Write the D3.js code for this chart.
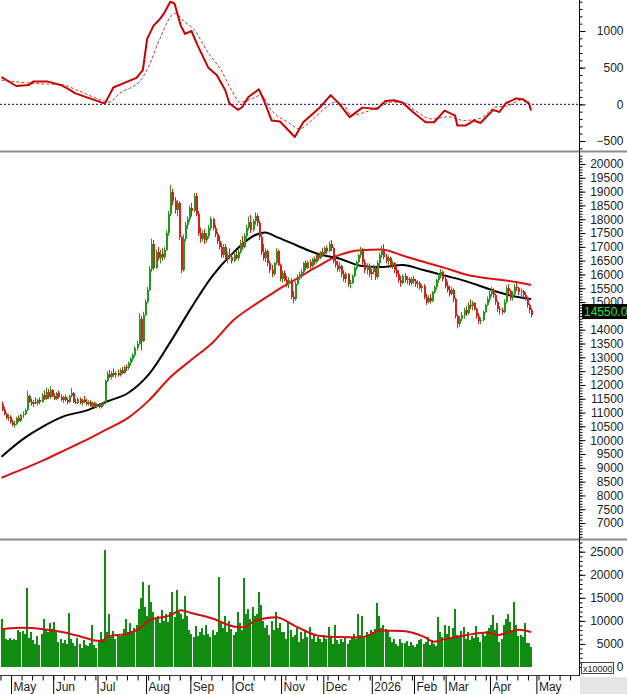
<!DOCTYPE html>
<html>
<head>
<meta charset="utf-8">
<script src="https://cdn.jsdelivr.net/npm/d3@7"></script>
<style>
body { margin: 0; background: #fff; }
svg { display: block; font-family: "Liberation Sans", Arial, sans-serif; }
</style>
</head>
<body>
<svg width="627" height="694"></svg>
<script>
// month axis (trading-day index of each month's first session)
const monthLabels = ['May', 'Jun', 'Jul', 'Aug', 'Sep', 'Oct', 'Nov', 'Dec', '2026', 'Feb', 'Mar', 'Apr', 'May'];
const monthStarts = [5, 25, 46, 69, 90, 110, 133, 153, 176, 196, 211, 232, 254];

const priceTicks = [20000, 19500, 19000, 18500, 18000, 17500, 17000, 16500, 16000, 15500, 15000, 14500, 14000,
    13500, 13000, 12500, 12000, 11500, 11000, 10500, 10000, 9500, 9000, 8500, 8000, 7500, 7000];
const macdTicks = [1000, 500, 0, -500];
const volTicks = [25000, 20000, 15000, 10000, 5000, 0];
const lastPrice = 14550;

// daily candles
const opens = [
    11300,11100,10950,10800,10850,10650,10550,10600,10800,10700,10900,10950,
    11100,11600,11400,11300,11400,11350,11450,11400,11650,11500,11750,11550,
    11800,11600,11500,11700,11550,11450,11550,11450,11400,11600,11700,11400,
    11350,11500,11350,11450,11400,11300,11400,11250,11350,11200,11300,11200,
    11300,11350,12150,12400,12300,12450,12350,12450,12350,12550,12450,12650,
    12600,12800,12950,13100,13350,13500,14400,13600,14550,15000,15450,16200,
    17100,16250,16800,16600,16750,16650,16900,17500,18200,19000,18650,18350,
    18600,17350,16150,17300,17800,18000,18400,18300,18850,18200,17500,17300,
    17500,17250,17400,17700,18000,17700,17450,17200,17000,16700,17000,16600,
    16700,16650,16500,16700,16600,16800,17150,17000,17400,17700,17900,17600,
    17950,18100,17850,17350,16800,16600,16850,16400,16150,16000,16400,16850,
    16350,15850,16050,15800,15650,15800,15200,15100,15650,15900,16000,16100,
    16400,16250,16450,16300,16550,16450,16700,16600,16800,16750,16950,16850,
    17100,16950,16500,16350,16200,16300,16000,15850,16000,15650,15700,15950,
    16250,16450,16700,16900,16450,16150,16300,16000,16100,16250,15900,16400,
    16700,16900,16650,16500,16600,16350,16400,16150,16000,15800,15700,15950,
    15800,15850,15700,15850,15750,15650,15700,15500,15600,15200,15000,15150,
    15050,15350,15550,15800,15950,16100,15850,15600,15450,15300,15450,15100,
    14500,14200,14400,14550,14700,14600,14900,14850,14950,14750,14500,14300,
    14350,14650,14900,15100,15300,15450,15250,15000,14750,14700,14650,15000,
    15500,15400,15150,15300,15550,15500,15350,15400,15250,15150,14900,14700
];
const highs = [
    11400,11200,11000,10950,10900,10750,10700,10850,10900,10950,11050,11150,
    11800,11650,11500,11450,11550,11500,11550,11700,11800,11900,11850,11950,
    11850,11700,11750,11800,11650,11600,11650,11550,11650,11900,11750,11500,
    11550,11550,11500,11600,11500,11450,11450,11400,11400,11350,11350,11350,
    11400,12200,12500,12550,12500,12600,12500,12550,12600,12650,12700,12750,
    12850,13000,13150,13400,13600,14600,14500,14650,15100,15550,16300,17300,
    17250,16900,17000,16900,16950,17000,17600,18300,19250,19100,18800,18700,
    18650,17400,17450,17900,18100,18500,18600,18950,18950,18300,17700,17600,
    17650,17500,17800,18100,18050,17800,17550,17400,17150,17100,17100,16800,
    16950,16750,16800,16850,16900,17250,17400,17500,17800,18100,18150,18000,
    18250,18200,17950,17500,17100,16950,16900,16500,16350,16450,16950,16900,
    16400,16150,16150,15950,15900,15850,15400,15750,16000,16100,16200,16450,
    16500,16500,16550,16600,16650,16750,16800,16850,16950,17000,17050,17200,
    17250,17000,16700,16500,16450,16350,16150,16100,16050,15800,16000,16300,
    16500,16750,17000,16950,16550,16400,16400,16200,16350,16300,16500,16800,
    17050,17100,16750,16700,16650,16500,16450,16300,16150,15950,16000,16050,
    15950,15900,15900,15950,15850,15800,15750,15650,15650,15300,15250,15300,
    15400,15600,15850,16050,16200,16150,15950,15750,15600,15550,15500,15150,
    14550,14500,14650,14800,14850,15000,15100,15050,15000,14800,14600,14450,
    14700,14950,15200,15400,15550,15500,15300,15050,14850,14800,15100,15600,
    15650,15450,15400,15650,15700,15550,15500,15450,15350,15200,14950,14800
];
const lows = [
    11050,10900,10750,10700,10600,10500,10450,10550,10650,10650,10800,10900,
    11050,11350,11250,11200,11300,11250,11300,11350,11450,11450,11500,11500,
    11550,11450,11450,11500,11400,11350,11400,11300,11350,11550,11350,11300,
    11300,11300,11250,11350,11250,11250,11200,11200,11150,11150,11150,11150,
    11250,11300,12100,12250,12200,12300,12250,12300,12300,12400,12400,12500,
    12550,12700,12850,13000,13250,13450,13250,13550,14500,14950,15400,16100,
    16150,16200,16500,16400,16500,16550,16850,17400,18100,18500,18200,18100,
    17250,16050,16100,17200,17650,17900,18100,18250,18100,17400,17150,17200,
    17100,17150,17300,17600,17600,17350,17100,16900,16600,16600,16500,16400,
    16550,16400,16450,16550,16500,16750,16900,16950,17300,17600,17500,17550,
    17800,17750,17250,16700,16500,16450,16300,16050,15900,15950,16350,16300,
    15750,15700,15750,15550,15500,15100,14950,15050,15600,15800,15850,16000,
    16150,16200,16200,16250,16350,16400,16500,16550,16650,16700,16750,16800,
    16850,16400,16250,16100,16100,15900,15750,15700,15550,15500,15650,15900,
    16150,16400,16600,16350,16050,16000,15900,15800,16000,15800,15850,16300,
    16600,16550,16400,16350,16250,16200,16050,15900,15700,15550,15650,15700,
    15650,15600,15600,15650,15550,15500,15450,15350,15100,14900,14950,14950,
    15000,15300,15450,15700,15850,15750,15500,15350,15200,15250,15000,14400,
    14050,14100,14300,14400,14500,14550,14750,14700,14700,14400,14200,14200,
    14300,14600,14850,15000,15200,15150,14900,14650,14550,14550,14600,14950,
    15300,15050,15050,15250,15400,15250,15200,15150,15050,14800,14600,14450
];
const closes = [
    11100,10950,10800,10850,10650,10550,10600,10800,10700,10900,10950,11100,
    11600,11400,11300,11400,11350,11450,11400,11650,11500,11750,11550,11800,
    11600,11500,11700,11550,11450,11550,11450,11400,11600,11700,11400,11350,
    11500,11350,11450,11400,11300,11400,11250,11350,11200,11300,11200,11300,
    11350,12150,12400,12300,12450,12350,12450,12350,12550,12450,12650,12600,
    12800,12950,13100,13350,13500,14400,13600,14550,15000,15450,16200,17100,
    16250,16800,16600,16750,16650,16900,17500,18200,19000,18650,18350,18600,
    17350,16150,17300,17800,18000,18400,18300,18850,18200,17500,17300,17500,
    17250,17400,17700,18000,17700,17450,17200,17000,16700,17000,16600,16700,
    16650,16500,16700,16600,16800,17150,17000,17400,17700,17900,17600,17950,
    18100,17850,17350,16800,16600,16850,16400,16150,16000,16400,16850,16350,
    15850,16050,15800,15650,15800,15200,15100,15650,15900,16000,16100,16400,
    16250,16450,16300,16550,16450,16700,16600,16800,16750,16950,16850,17100,
    16950,16500,16350,16200,16300,16000,15850,16000,15650,15700,15950,16250,
    16450,16700,16900,16450,16150,16300,16000,16100,16250,15900,16400,16700,
    16900,16650,16500,16600,16350,16400,16150,16000,15800,15700,15950,15800,
    15850,15700,15850,15750,15650,15700,15500,15600,15200,15000,15150,15050,
    15350,15550,15800,15950,16100,15850,15600,15450,15300,15450,15100,14500,
    14200,14400,14550,14700,14600,14900,14850,14950,14750,14500,14300,14350,
    14650,14900,15100,15300,15450,15250,15000,14750,14700,14650,15000,15500,
    15400,15150,15300,15550,15500,15350,15400,15250,15150,14900,14700,14550
];
const volumes = [
    10500,8300,6000,5800,6200,5900,6100,5900,8000,7500,7800,7200,
    17100,6200,7500,5800,5000,6800,4800,7200,10500,8000,7500,9500,
    8200,9800,7600,5500,6000,5200,5800,5000,11800,6000,5200,4500,
    6300,5000,4200,5800,4800,4500,5200,9000,4800,4200,5500,7500,
    6000,25400,7500,11600,6500,7800,6000,7200,6800,7000,8200,10300,
    7500,9500,7800,8500,9200,12500,15000,18500,13000,11000,17800,14000,
    12000,10500,11000,9500,12300,10000,11500,9800,12000,16200,10800,16800,
    12000,11500,10500,15400,11000,8000,7200,6500,8800,6800,7500,8500,
    7000,9000,7200,6500,8000,7000,7500,19600,9500,8500,11000,7500,
    10000,8200,7000,7500,12000,9500,8000,19300,11500,12500,10500,13000,
    11000,11500,16300,13500,10000,8500,9000,7000,10000,8000,12000,8500,
    9500,7500,7500,6000,9800,8000,6500,7000,8500,5500,7500,6000,
    8000,6500,8700,6000,7000,5500,6500,6000,5500,7000,6000,8700,
    6500,5000,9000,5800,5000,6000,5500,6500,5000,5800,6500,7200,
    6000,11500,7000,11000,6500,7500,7000,8000,7500,8200,13900,11000,
    8500,9000,8200,8000,6500,5500,6000,5000,4500,6000,5200,5200,
    5600,4600,5400,4800,4400,5000,5800,6000,5000,5500,6500,4800,
    5800,5000,4600,10800,7500,6500,9000,7200,8800,6000,8500,12600,
    7000,6500,7800,8700,6000,7500,5800,6800,6200,8800,6500,5500,
    7500,6800,7800,8500,9200,11200,8000,9500,5500,6000,9000,10500,
    11600,9800,8000,14200,9000,6800,7000,6500,9500,5200,5200,4300
];

// moving averages, read at these session indexes
const maAt = [0, 10, 20, 30, 40, 50, 60, 70, 80, 90, 100, 110, 120, 125, 130, 140, 150, 160, 170, 180, 190, 200, 210, 220, 230, 240, 251];
const maShort = [9400, 10030, 10510, 10880, 11070, 11400, 11710, 12400, 13550, 14800, 15950, 16800, 17420, 17520, 17370,
    17050, 16740, 16580, 16320, 16270, 16340, 16160, 15960, 15760, 15500, 15260, 15110];
const maLong = [8640, 8950, 9280, 9640, 10000, 10400, 10810, 11450, 12280, 12910, 13530, 14350, 14900, 15150, 15400,
    15850, 16300, 16700, 16880, 16900, 16690, 16460, 16240, 16000, 15860, 15770, 15620];

const volMaAt = [0, 10, 20, 30, 40, 45, 48, 50, 60, 65, 70, 80, 85, 90, 100, 110, 115, 120, 130, 140,
    150, 160, 170, 180, 190, 200, 205, 210, 220, 230, 235, 240, 245, 251];
const volMa = [8200, 8500, 8200, 7500, 6300, 5700, 5600, 6600, 7300, 8200, 10100, 11200, 12300, 11700, 10500, 8800, 8600, 10000, 10800, 8700,
    6800, 6500, 6400, 7900, 7800, 6600, 5500, 6000, 6900, 7500, 6900, 7500, 8100, 7600];

// MACD and signal
const macdAt = [0, 7, 13, 15, 22, 28, 32, 35, 47, 49, 53, 58, 64, 67, 69, 72, 75, 77, 80, 82, 85, 87, 90, 93, 98, 102, 106, 108, 112, 114,
    117, 122, 124, 128, 132, 139, 143, 151, 156, 160, 165, 171, 178, 182, 186, 190, 195, 201, 205, 210, 215, 216, 220, 224, 227, 233, 236, 239, 244, 247, 250, 251];
const macdVals = [370, 250, 265, 310, 310, 264, 205, 150, 30, 10, 230, 290, 360, 470, 890, 1070, 1160, 1240, 1400, 1375, 1070, 960, 1000, 800, 500, 400, 195, 15, -75, -40,
    100, 205, 80, -220, -235, -445, -245, -40, 125, 10, -175, -45, -65, 45, 55, 25, -105, -245, -245, -85, -155, -290, -290, -220, -255, -75, -105, 15, 80, 70, 10, -85];
const signalAt = [0, 18, 28, 37, 47, 51, 56, 66, 69, 75, 82, 87, 91, 98, 104, 109, 113, 119, 123, 128,
    136, 141, 147, 153, 158, 162, 166, 172, 179, 185, 191, 196, 204, 212, 219, 227, 234, 240, 246, 250];
const signalVals = [330, 280, 270, 180, 60, 30, 150, 330, 470, 890, 1240, 1120, 1030, 700, 470, 195, 30, 80, 125, -85,
    -250, -335, -220, -60, 30, 0, -150, -110, -30, 30, 20, -85, -200, -170, -220, -190, -40, -20, 55, 30];

const upColor = '#1f9a1f';
const downColor = '#e01b1b';

const svg = d3.select('svg');
const axisX = 579;

const x = d3.scaleLinear().domain([0, 274]).range([1.5, 1.5 + 274 * 2.11]);
const yMacd = d3.scaleLinear().domain([-623, 1423]).range([150, 0]);
const yPrice = d3.scaleLinear().domain([6459, 20398]).range([538, 153]);
const yVol = d3.scaleLinear().domain([0, 25000]).range([667, 551.7]);
const yLast = yPrice(lastPrice);

const defs = svg.append('defs');
const addClip = (id, y0, y1) => defs.append('clipPath').attr('id', id)
    .append('rect').attr('x', 0).attr('y', y0).attr('width', axisX).attr('height', y1 - y0);
addClip('clip-macd', 0, 150);
addClip('clip-price', 153, 538);
addClip('clip-vol', 541, 675);

// panel separators
[150.5, 538.5].forEach(y => {
    svg.append('rect').attr('x', 0).attr('y', y).attr('width', 627).attr('height', 2).attr('fill', '#8c8c8c');
});

// ---- MACD panel
const gm = svg.append('g').attr('clip-path', 'url(#clip-macd)');
gm.append('line')
    .attr('x1', 0).attr('x2', axisX)
    .attr('y1', yMacd(0)).attr('y2', yMacd(0))
    .attr('stroke', '#000080')
    .attr('stroke-dasharray', '2,2');

const zipPts = (at, vals) => at.map((i, k) => ({ i, v: vals[k] }));

gm.append('path')
    .datum(zipPts(signalAt, signalVals))
    .attr('fill', 'none')
    .attr('stroke', '#b04040')
    .attr('stroke-width', 1)
    .attr('stroke-dasharray', '3,2')
    .attr('d', d3.line().x(d => x(d.i)).y(d => yMacd(d.v)).curve(d3.curveMonotoneX));

gm.append('path')
    .datum(zipPts(macdAt, macdVals))
    .attr('fill', 'none')
    .attr('stroke', '#cc0000')
    .attr('stroke-width', 2)
    .attr('stroke-linejoin', 'round')
    .attr('d', d3.line().x(d => x(d.i)).y(d => yMacd(d.v)));

// ---- price panel
const gp = svg.append('g').attr('clip-path', 'url(#clip-price)');
const bars = closes.map((c, i) => ({ i, o: opens[i], h: highs[i], l: lows[i], c }));

gp.append('path')
    .datum(zipPts(maAt, maLong))
    .attr('fill', 'none').attr('stroke', '#dd1111').attr('stroke-width', 2)
    .attr('d', d3.line().x(d => x(d.i)).y(d => yPrice(d.v)).curve(d3.curveMonotoneX));

gp.append('path')
    .datum(zipPts(maAt, maShort))
    .attr('fill', 'none').attr('stroke', '#000').attr('stroke-width', 2)
    .attr('d', d3.line().x(d => x(d.i)).y(d => yPrice(d.v)).curve(d3.curveMonotoneX));

gp.selectAll('line.wick')
    .data(bars)
    .join('line')
    .attr('class', 'wick')
    .attr('x1', d => Math.round(x(d.i)) + 0.5)
    .attr('x2', d => Math.round(x(d.i)) + 0.5)
    .attr('y1', d => yPrice(d.h))
    .attr('y2', d => yPrice(d.l))
    .attr('stroke', d => d.c >= d.o ? upColor : downColor)
    .attr('stroke-width', 1);

gp.selectAll('rect.body')
    .data(bars)
    .join('rect')
    .attr('class', 'body')
    .attr('x', d => Math.round(x(d.i)) - 0.5)
    .attr('width', 2)
    .attr('y', d => yPrice(Math.max(d.o, d.c)))
    .attr('height', d => Math.max(1, Math.abs(yPrice(d.o) - yPrice(d.c))))
    .attr('fill', d => d.c >= d.o ? upColor : downColor)
    .attr('shape-rendering', 'crispEdges');

// ---- volume panel
const gv = svg.append('g').attr('clip-path', 'url(#clip-vol)');
gv.selectAll('rect')
    .data(volumes)
    .join('rect')
    .attr('x', (d, i) => x(i) - 1)
    .attr('width', 2)
    .attr('y', d => yVol(d))
    .attr('height', d => yVol(0) - yVol(d))
    .attr('fill', '#108c10')
    .attr('shape-rendering', 'crispEdges');

gv.append('path')
    .datum(zipPts(volMaAt, volMa))
    .attr('fill', 'none').attr('stroke', '#d01010').attr('stroke-width', 2)
    .attr('d', d3.line().x(d => x(d.i)).y(d => yVol(d.v)).curve(d3.curveMonotoneX));

// ---- right axes
const rightAxis = (scale, major, minor) => {
    const g = svg.append('g')
        .attr('transform', `translate(${axisX + 0.5},0)`);
    g.append('g')
        .call(d3.axisRight(scale).tickValues(minor).tickSize(3).tickFormat(''))
        .select('.domain').remove();
    const mg = g.append('g')
        .call(d3.axisRight(scale).tickValues(major).tickSize(6).tickFormat(d3.format('d')));
    mg.select('.domain').remove();
    mg.attr('font-family', '"Liberation Sans", Arial, sans-serif').attr('font-size', 12);
    mg.selectAll('text')
        .attr('x', 44)
        .attr('text-anchor', 'end')
        .attr('fill', '#222');
    g.selectAll('.tick line').attr('stroke', '#000');
    return mg;
};

rightAxis(yMacd, macdTicks, d3.range(-600, 1401, 100));
const priceAxis = rightAxis(yPrice, priceTicks, d3.range(6500, 20400, 100));
rightAxis(yVol, volTicks, d3.range(0, 27001, 1000));

// the last-price tag hides the label that sits under it
priceAxis.selectAll('text')
    .filter(d => Math.abs(yPrice(d) - yLast) < 8)
    .remove();

svg.append('line')
    .attr('x1', axisX + 0.5).attr('x2', axisX + 0.5)
    .attr('y1', 0).attr('y2', 676)
    .attr('stroke', '#000');

// last price tag
svg.append('rect')
    .attr('x', 582).attr('y', yLast - 10.5)
    .attr('width', 45).attr('height', 15)
    .attr('fill', '#000');
svg.append('text')
    .attr('x', 584).attr('y', yLast + 1.5)
    .attr('font-size', 12)
    .attr('fill', '#22e622')
    .text(d3.format('.2f')(lastPrice));

// x10000 unit box
svg.append('rect')
    .attr('x', 581.5).attr('y', 662.5)
    .attr('width', 32).attr('height', 11)
    .attr('fill', '#fff').attr('stroke', '#444');
svg.append('text')
    .attr('x', 583).attr('y', 671.5)
    .attr('font-size', 9)
    .attr('fill', '#222')
    .text('x10000');

// ---- bottom time axis
const gx = svg.append('g')
    .attr('transform', 'translate(0,675.5)');

gx.append('g')
    .call(d3.axisBottom(x).tickValues(d3.range(-0.5, 270, 5)).tickSize(5).tickFormat(''))
    .call(s => s.select('.domain').remove());

const monthAxis = gx.append('g')
    .call(d3.axisBottom(x).tickValues(monthStarts.map(i => i - 0.5)).tickSize(19)
        .tickFormat((d, k) => monthLabels[k]));
monthAxis.select('.domain').remove();
monthAxis.attr('font-family', '"Liberation Sans", Arial, sans-serif').attr('font-size', 12);
monthAxis.selectAll('text')
    .attr('x', 2)
    .attr('y', 15.5)
    .attr('dy', null)
    .attr('text-anchor', 'start')
    .attr('fill', '#222');
gx.selectAll('.tick line').attr('stroke', '#000');

gx.append('line')
    .attr('x1', 0).attr('x2', axisX)
    .attr('y1', 0).attr('y2', 0)
    .attr('stroke', '#333');

svg.append('rect')
    .attr('x', 580).attr('y', 677)
    .attr('width', 47).attr('height', 17)
    .attr('fill', '#e6e6e6');
</script>
</body>
</html>
